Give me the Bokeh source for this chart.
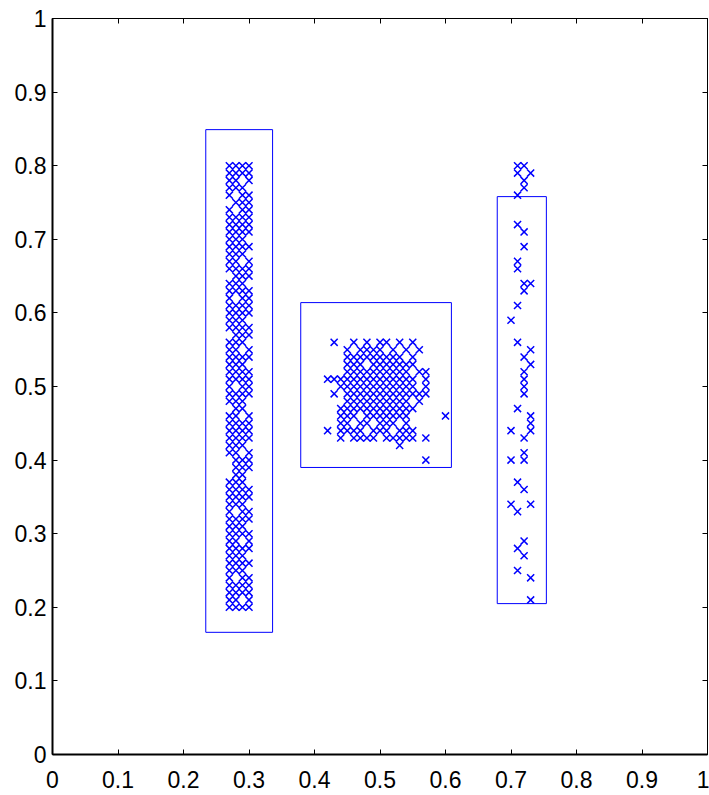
from bokeh.plotting import figure
from bokeh.models import Range1d, FixedTicker, LinearAxis, ColumnDataSource
from bokeh.embed import file_html
from bokeh.resources import INLINE

# ---- data ----
tick_vals = [0, 0.1, 0.2, 0.3, 0.4, 0.5, 0.6, 0.7, 0.8, 0.9, 1]
tick_labels = ["0", "0.1", "0.2", "0.3", "0.4", "0.5", "0.6", "0.7", "0.8", "0.9", "1"]

# left cluster: row y -> x values present
left_rows = [
    (0.80, [0.27, 0.28, 0.29, 0.30]), (0.79, [0.27, 0.28, 0.29, 0.30]),
    (0.78, [0.27, 0.28, 0.30]), (0.77, [0.27, 0.28, 0.29]),
    (0.76, [0.27, 0.29, 0.30]), (0.75, [0.28, 0.29, 0.30]),
    (0.74, [0.27, 0.29, 0.30]), (0.73, [0.27, 0.28, 0.29, 0.30]),
    (0.72, [0.27, 0.28, 0.29, 0.30]), (0.71, [0.27, 0.28, 0.29, 0.30]),
    (0.70, [0.27, 0.28, 0.29]), (0.69, [0.27, 0.28, 0.29, 0.30]),
    (0.68, [0.27, 0.28, 0.29]), (0.67, [0.27, 0.28, 0.30]),
    (0.66, [0.27, 0.28, 0.29, 0.30]), (0.65, [0.28, 0.29, 0.30]),
    (0.64, [0.27, 0.28, 0.29]), (0.63, [0.27, 0.28, 0.29, 0.30]),
    (0.62, [0.27, 0.29, 0.30]), (0.61, [0.27, 0.28, 0.29, 0.30]),
    (0.60, [0.27, 0.28, 0.29, 0.30]), (0.59, [0.27, 0.28, 0.29]),
    (0.58, [0.27, 0.28, 0.29, 0.30]), (0.57, [0.28, 0.29, 0.30]),
    (0.56, [0.27, 0.28, 0.29]), (0.55, [0.27, 0.28, 0.30]),
    (0.54, [0.27, 0.28, 0.29, 0.30]), (0.53, [0.27, 0.28, 0.29]),
    (0.52, [0.27, 0.28, 0.29, 0.30]), (0.51, [0.27, 0.28, 0.29, 0.30]),
    (0.50, [0.27, 0.29, 0.30]), (0.49, [0.27, 0.28, 0.29, 0.30]),
    (0.48, [0.27, 0.28, 0.29]), (0.47, [0.28, 0.29]),
    (0.46, [0.27, 0.28, 0.30]), (0.45, [0.27, 0.28, 0.29, 0.30]),
    (0.44, [0.27, 0.28, 0.29, 0.30]), (0.43, [0.27, 0.28, 0.29, 0.30]),
    (0.42, [0.27, 0.28, 0.29]), (0.41, [0.27, 0.28, 0.30]),
    (0.40, [0.28, 0.29, 0.30]), (0.39, [0.28, 0.29, 0.30]),
    (0.38, [0.28, 0.29]), (0.37, [0.27, 0.28, 0.29]),
    (0.36, [0.27, 0.28, 0.29, 0.30]), (0.35, [0.27, 0.28, 0.29, 0.30]),
    (0.34, [0.27, 0.28, 0.29]), (0.33, [0.27, 0.29, 0.30]),
    (0.32, [0.27, 0.28, 0.29, 0.30]), (0.31, [0.27, 0.28, 0.29]),
    (0.30, [0.27, 0.28, 0.29, 0.30]), (0.29, [0.27, 0.28, 0.30]),
    (0.28, [0.27, 0.28, 0.29, 0.30]), (0.27, [0.27, 0.28, 0.29]),
    (0.26, [0.27, 0.28, 0.29, 0.30]), (0.25, [0.27, 0.28, 0.29]),
    (0.24, [0.27, 0.29, 0.30]), (0.23, [0.27, 0.28, 0.29, 0.30]),
    (0.22, [0.27, 0.28, 0.29, 0.30]), (0.21, [0.27, 0.28, 0.30]),
    (0.20, [0.27, 0.28, 0.29, 0.30]),
]

# middle cluster
mid_rows = [
    (0.56, [0.43, 0.46, 0.48, 0.50, 0.51, 0.53, 0.55]),
    (0.55, [0.45, 0.47, 0.48, 0.49, 0.50, 0.52, 0.54, 0.56]),
    (0.54, [0.45, 0.46, 0.47, 0.48, 0.49, 0.50, 0.51, 0.52, 0.53, 0.55]),
    (0.53, [0.45, 0.46, 0.47, 0.49, 0.50, 0.51, 0.52, 0.53, 0.54, 0.55]),
    (0.52, [0.45, 0.46, 0.47, 0.48, 0.49, 0.50, 0.51, 0.52, 0.53, 0.54, 0.56, 0.57]),
    (0.51, [0.42, 0.43, 0.44, 0.45, 0.46, 0.47, 0.48, 0.49, 0.50, 0.51, 0.52, 0.53, 0.54, 0.55, 0.57]),
    (0.50, [0.44, 0.45, 0.46, 0.47, 0.48, 0.49, 0.50, 0.51, 0.52, 0.53, 0.54, 0.55, 0.57]),
    (0.49, [0.43, 0.45, 0.46, 0.47, 0.48, 0.49, 0.50, 0.51, 0.52, 0.53, 0.54, 0.55, 0.56, 0.57]),
    (0.48, [0.45, 0.46, 0.47, 0.48, 0.49, 0.50, 0.51, 0.52, 0.53, 0.54, 0.56]),
    (0.47, [0.44, 0.45, 0.46, 0.47, 0.48, 0.49, 0.50, 0.51, 0.52, 0.53, 0.54, 0.55]),
    (0.46, [0.44, 0.45, 0.46, 0.48, 0.49, 0.50, 0.51, 0.52, 0.53, 0.54, 0.60]),
    (0.45, [0.44, 0.45, 0.47, 0.48, 0.50, 0.51, 0.52, 0.54]),
    (0.44, [0.42, 0.44, 0.45, 0.46, 0.47, 0.49, 0.50, 0.51, 0.53, 0.54, 0.55]),
    (0.43, [0.44, 0.46, 0.47, 0.48, 0.49, 0.51, 0.52, 0.53, 0.54, 0.55, 0.57]),
    (0.42, [0.53]),
    (0.40, [0.57]),
]

# right cluster
right_x = [0.71, 0.72, 0.71, 0.73, 0.72, 0.72, 0.71, 0.71, 0.72, 0.72, 0.71, 0.71,
           0.72, 0.73, 0.72, 0.71, 0.70, 0.71, 0.73, 0.72, 0.73, 0.72, 0.72, 0.72,
           0.72, 0.71, 0.73, 0.73, 0.73, 0.70, 0.72, 0.72, 0.72, 0.70, 0.71, 0.72,
           0.70, 0.71, 0.73, 0.72, 0.71, 0.72, 0.71, 0.73, 0.73]
right_y = [0.80, 0.80, 0.79, 0.79, 0.78, 0.77, 0.76, 0.72, 0.71, 0.69, 0.67, 0.66,
           0.64, 0.64, 0.63, 0.61, 0.59, 0.56, 0.55, 0.54, 0.53, 0.52, 0.51, 0.50,
           0.49, 0.47, 0.46, 0.45, 0.44, 0.44, 0.43, 0.41, 0.40, 0.40, 0.37, 0.36,
           0.34, 0.33, 0.34, 0.29, 0.28, 0.27, 0.25, 0.24, 0.21]

# bounding boxes
box_left = [0.234, 0.379, 0.679]
box_right = [0.336, 0.609, 0.754]
box_top = [0.849, 0.614, 0.758]
box_bottom = [0.166, 0.390, 0.205]

# ---- build ----
xs, ys = [], []
for y, row in left_rows + mid_rows:
    for x in row:
        xs.append(x)
        ys.append(y)
xs += right_x
ys += right_y

pts = ColumnDataSource(dict(x=xs, y=ys))
boxes = ColumnDataSource(dict(left=box_left, right=box_right, top=box_top, bottom=box_bottom))

p = figure(frame_width=655, frame_height=736, output_backend="svg", toolbar_location=None,
           x_range=Range1d(0, 1), y_range=Range1d(0, 1),
           min_border_left=52, min_border_top=18, min_border_right=2, min_border_bottom=41)
p.background_fill_color = "white"
p.border_fill_color = "white"
p.grid.visible = False
p.outline_line_color = "black"
p.outline_line_width = 1

p.quad(left="left", right="right", top="top", bottom="bottom", source=boxes,
       fill_alpha=0, line_color="#0000ff", line_width=1)
p.scatter("x", "y", source=pts, marker="x", size=10, line_color="#0000ff", line_width=1.5)

labels = {v: l for v, l in zip(tick_vals, tick_labels)}
for ax in (p.xaxis[0], p.yaxis[0]):
    ax.ticker = FixedTicker(ticks=tick_vals)
    ax.major_label_overrides = labels
    ax.minor_tick_line_color = None
    ax.major_tick_in = 5
    ax.major_tick_out = 0
    ax.axis_line_width = 2
    ax.axis_line_color = "black"
    ax.major_tick_line_color = "black"
    ax.major_label_text_font = "Liberation Sans"
    ax.major_label_text_font_size = "23px"
    ax.major_label_text_color = "black"
p.xaxis[0].major_label_standoff = 16
p.yaxis[0].major_label_standoff = 6

blank = {v: "" for v in tick_vals}
for loc in ("above", "right"):
    ax = LinearAxis(ticker=FixedTicker(ticks=tick_vals))
    ax.major_label_overrides = blank
    ax.major_label_standoff = 0
    ax.minor_tick_line_color = None
    ax.major_tick_in = 5
    ax.major_tick_out = 0
    ax.axis_line_width = 1
    ax.axis_line_color = "black"
    ax.major_tick_line_color = "black"
    p.add_layout(ax, loc)

open("out.html", "w").write(file_html(p, INLINE))
